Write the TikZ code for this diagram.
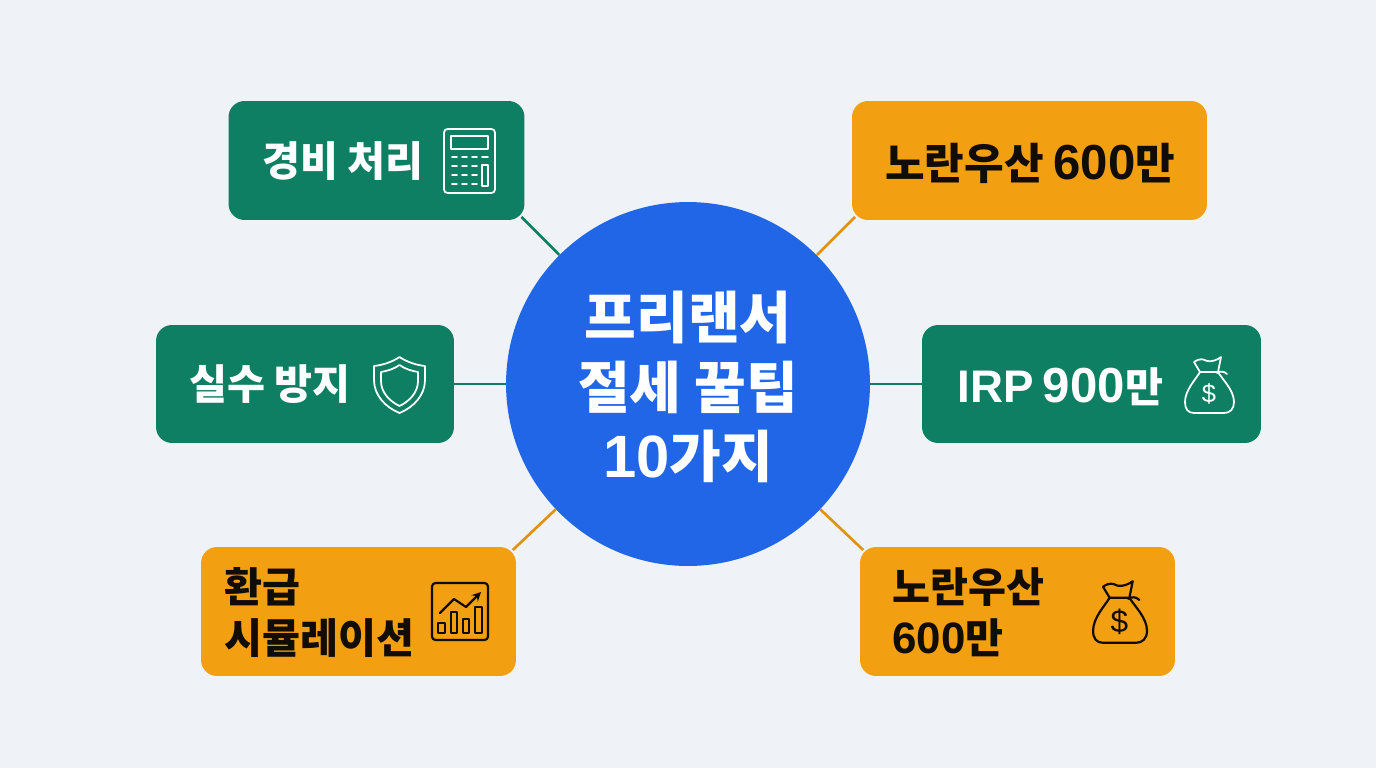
\documentclass[tikz,border=0pt]{standalone}
\usepackage{fontspec}
\setmainfont{Noto Sans CJK KR}
\newfontfamily\latinfont{Liberation Sans}
\usetikzlibrary{calc}
\definecolor{pagebg}{HTML}{EFF2F7}
\definecolor{hubblue}{HTML}{2066E6}
\definecolor{boxgreen}{HTML}{0E7F63}
\definecolor{boxorange}{HTML}{F29F12}
\definecolor{inkdark}{HTML}{120C06}
\tikzset{
  greenbox/.style={draw=none, fill=boxgreen, rounded corners=0.32cm, inner sep=0pt},
  orangebox/.style={draw=none, fill=boxorange, rounded corners=0.32cm, inner sep=0pt},
  whitelabel/.style={text=white, anchor=west, align=left, inner sep=0pt, font=\fontsize{23.5}{29}\selectfont\bfseries},
  darklabel/.style={text=inkdark, anchor=west, align=left, inner sep=0pt, font=\fontsize{23.5}{29}\selectfont\bfseries},
  greenline/.style={draw=boxgreen, line width=1.5pt},
  orangeline/.style={draw=boxorange!92!black, line width=1.5pt},
  iconline/.style={line width=1pt, line join=round, line cap=round},
  darkicon/.style={line width=1.25pt, line join=round, line cap=round}
}
\newcommand{\latin}[2]{{\latinfont\fontsize{#1}{#1}\selectfont #2}}
\newcommand{\moneybag}[7]{%
  \begin{scope}[shift={(#2,#3)}, scale=#4, #5, #6]
    \draw (-9,-13) .. controls (-13,-6) and (-24,5) .. (-24,17) .. controls (-24,24) and (-21,28) .. (-15,28) -- (15,28) .. controls (21,28) and (25,24) .. (25,17) .. controls (25,5) and (13,-6) .. (9,-13);
    \draw (-9,-13) -- (-15,-23) .. controls (-9,-27) and (-6,-26) .. (-2,-24) .. controls (3,-23) and (8,-25) .. (12,-28) -- (9,-13) -- cycle;
    \draw (8,-12) .. controls (11,-14) and (15,-14) .. (18,-11);
    \node[#5, inner sep=0pt, font=\latinfont\fontsize{#7}{#7}\selectfont] (#1) at (0,9) {\$};
  \end{scope}}
\begin{document}
\begin{tikzpicture}[x=0.02cm, y=-0.02cm]
  \useasboundingbox[fill=pagebg] (0,0) rectangle (1376,768);
  % Nodes
  \node[circle, fill=hubblue, minimum size=7.28cm, inner sep=0pt](H) at (688,384) {};
  \node[greenbox, minimum width=5.92cm, minimum height=2.38cm](E) at (376.5,160.5) {};
  \node[greenbox, minimum width=5.96cm, minimum height=2.36cm](M) at (305,384) {};
  \node[orangebox, minimum width=6.3cm, minimum height=2.58cm](R) at (358.5,611.5) {};
  \node[orangebox, minimum width=7.1cm, minimum height=2.38cm](Y) at (1029.5,160.5) {};
  \node[greenbox, minimum width=6.78cm, minimum height=2.36cm](I) at (1091.5,384) {};
  \node[orangebox, minimum width=6.3cm, minimum height=2.58cm](U) at (1017.5,611.5) {};
  % Labels
  \node[text=white, align=center, inner sep=0pt, font=\fontsize{32}{39.7}\selectfont\bfseries](Hl) at (688,387) {프리랜서\\절세 꿀팁\\\latin{34}{10}가지};
  \node[whitelabel](El) at (262,161) {경비 처리};
  \node[whitelabel](Ml) at (189,384) {실수 방지};
  \node[darklabel](Rl) at (224,612.5) {환급\\시뮬레이션};
  \node[darklabel, font=\fontsize{24.5}{29}\selectfont\bfseries](Yl) at (885,163) {노란우산 \latin{28}{600}만};
  \node[whitelabel](Il) at (957,387) {\latin{26}{IRP} \latin{28}{900}만};
  \node[darklabel](Ul) at (892,612.5) {노란우산\\\latin{25}{600}만};
  % Edges
  \path[greenline, shorten >=-2.7pt] (H) -- (E.south east);
  \path[greenline] (H) -- (M);
  \path[orangeline, shorten >=-2.7pt] (H) -- (R.north east);
  \path[orangeline, shorten >=-2.7pt] (H) -- (Y.south west);
  \path[greenline] (H) -- (I);
  \path[orangeline, shorten >=-2.7pt] (H) -- (U.north west);
  % Calculator
  \begin{scope}[white, iconline]
    \draw[rounded corners=2pt] (444,129) rectangle (495,193);
    \draw (451,136) rectangle (488,149);
    \draw (482,165) rectangle (488,186);
    \foreach \y in {157,166,175,184}
      \foreach \x in {452,462,472}
        \draw (\x,\y) -- ++(5,0);
    \draw (482,157) -- ++(6,0);
  \end{scope}
  % Shield
  \begin{scope}[white, iconline]
    \draw (399.5,357) .. controls (392,362) and (383,365) .. (374,366) -- (374,380) .. controls (374,395) and (385,407) .. (399.5,413) .. controls (414,407) and (425,395) .. (425,380) -- (425,366) .. controls (416,365) and (407,362) .. (399.5,357) -- cycle;
    \draw (399.5,365) .. controls (394,369) and (387,371) .. (381,372) -- (381,381) .. controls (381,392) and (389,401) .. (399.5,406) .. controls (410,401) and (418,392) .. (418,381) -- (418,372) .. controls (412,371) and (405,369) .. (399.5,365) -- cycle;
  \end{scope}
  % Chart
  \begin{scope}[inkdark, darkicon]
    \draw[rounded corners=2pt] (432,583) rectangle (488,640);
    \draw (438,623) rectangle (445,633);
    \draw (451,612) rectangle (457,633);
    \draw (463,619) rectangle (469,633);
    \draw (475,607) rectangle (482,633);
    \draw[-stealth] (440,613) -- (454,599) -- (466,607) -- (481,592);
  \end{scope}
  % Bags
  \moneybag{Is}{1209}{385}{1}{white}{iconline}{14.5}
  \moneybag{Us}{1119.5}{612}{1.1}{inkdark}{darkicon}{18}
\end{tikzpicture}
\end{document}
